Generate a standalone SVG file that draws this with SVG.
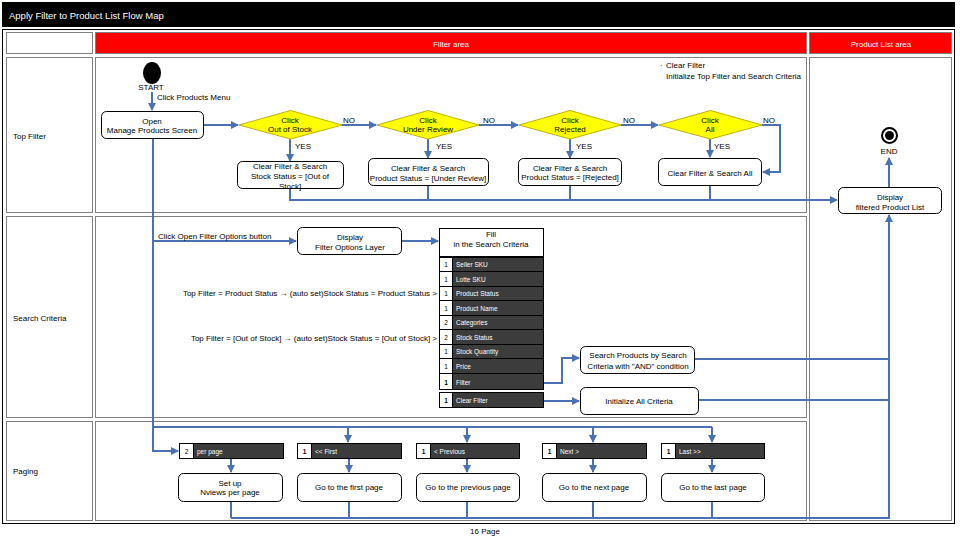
<svg xmlns="http://www.w3.org/2000/svg" width="960" height="540" viewBox="0 0 960 540">
<defs>
<marker id="ah" markerUnits="userSpaceOnUse" markerWidth="8" markerHeight="8" refX="7" refY="4" orient="auto">
<path d="M0,0 L8,4 L0,8 z" fill="#4a72b2"/>
</marker>
<style>
text{font-family:"Liberation Sans",Arial,sans-serif;font-size:8px;fill:#000}
.c{text-anchor:middle}
.e{text-anchor:end}
.w{fill:#fff}
.sm{font-size:6.5px}
.cell{fill:#fff;stroke:#808080;stroke-width:1}
.red{fill:#ff0000;stroke:#808080;stroke-width:1}
.box{fill:#fff;stroke:#000;stroke-width:1}
.dia{fill:#ffff00;stroke:#c0b000;stroke-width:1}
.bar{fill:#3c3c3c;stroke:#000;stroke-width:1}
.num{fill:#fff;stroke:#000;stroke-width:1}
.con path{fill:none;stroke:#4a72b2;stroke-width:2}
.con .a{marker-end:url(#ah)}
</style>
</defs>
<rect x="0" y="0" width="960" height="540" fill="#fff"/>
<g id="title">
<rect x="2" y="2" width="953" height="25" fill="#000"/>
<text x="9" y="19" class="w" style="font-size:9.5px">Apply Filter to Product List Flow Map</text>
</g>
<g id="frame">
<rect x="2.5" y="29.5" width="952" height="494" fill="#fff" stroke="#000"/>
<rect class="cell" x="6.5" y="32.5" width="86" height="21"/>
<rect class="red" x="95.5" y="32.5" width="711" height="21"/>
<rect class="red" x="809.5" y="32.5" width="142" height="21"/>
<text x="451" y="47" class="c w">Filter area</text>
<text x="881" y="47" class="c w">Product List area</text>
<rect class="cell" x="6.5" y="57.5" width="86" height="155"/>
<rect class="cell" x="6.5" y="216.5" width="86" height="201"/>
<rect class="cell" x="6.5" y="421.5" width="86" height="99"/>
<rect class="cell" x="95.5" y="57.5" width="711" height="155"/>
<rect class="cell" x="95.5" y="216.5" width="711" height="201"/>
<rect class="cell" x="95.5" y="421.5" width="711" height="99"/>
<rect class="cell" x="809.5" y="57.5" width="142" height="463"/>
<text x="13" y="139">Top Filter</text>
<text x="13" y="321">Search Criteria</text>
<text x="13" y="474">Paging</text>
<text x="485" y="534" class="c">16  Page</text>
</g>
<g id="connectors" class="con">
<path class="a" d="M152,92 V110"/>
<path class="a" d="M204,125 H238"/>
<path class="a" d="M342,125 H376"/>
<path class="a" d="M479,125 H518"/>
<path class="a" d="M621,125 H658"/>
<path class="a" d="M762,125 H780 V172 H763"/>
<path class="a" d="M290,139 V161"/>
<path class="a" d="M428,139 V158"/>
<path class="a" d="M570,139 V158"/>
<path class="a" d="M710,139 V157"/>
<path d="M428,186 V200 M570,186 V200 M710,186 V200"/>
<path class="a" d="M290,189 V200 H837"/>
<path class="a" d="M889,187 V158"/>
<path class="a" d="M153,138 V451 H178"/>
<path class="a" d="M153,241 H296"/>
<path class="a" d="M402,241 H438"/>
<path class="a" d="M543,383 H562 V358 H579"/>
<path class="a" d="M543,401 H579"/>
<path d="M153,427 H712"/>
<path class="a" d="M348,427 V442"/>
<path class="a" d="M467,427 V442"/>
<path class="a" d="M593,427 V442"/>
<path class="a" d="M712,427 V442"/>
<path class="a" d="M231,458 V472"/>
<path class="a" d="M349,458 V472"/>
<path class="a" d="M467,458 V472"/>
<path class="a" d="M593,458 V472"/>
<path class="a" d="M712,458 V472"/>
<path d="M231,502 V518 M349,502 V518 M467,502 V518 M593,502 V518 M712,502 V518"/>
<path d="M695,359 H889 M699,400 H889"/>
<path class="a" d="M231,518 H889 V215"/>
</g>
<g id="start">
<ellipse cx="152" cy="73" rx="9" ry="11" fill="#000"/>
<text x="151" y="90" class="c">START</text>
</g>
<g id="lbl-click-products">
<text x="157" y="100">Click Products Menu</text>
</g>
<g id="note">
<text x="660" y="68">·</text>
<text x="666" y="68">Clear Filter</text>
<text x="666" y="79">Initialize Top Filter and Search Criteria</text>
</g>
<g id="open-manage">
<rect class="box" x="101.5" y="111.5" width="102" height="27" rx="5"/>
<text x="152" y="124" class="c">Open</text>
<text x="152" y="133" class="c">Manage Products Screen</text>
</g>
<g id="d-outofstock">
<polygon class="dia" points="239,125 290.5,110.5 342,125 290.5,139"/>
<text x="290" y="123" class="c">Click</text>
<text x="290" y="132" class="c">Out of Stock</text>
<text x="343" y="123">NO</text>
<text x="295" y="149">YES</text>
</g>
<g id="d-underreview">
<polygon class="dia" points="377,125 428,110.5 479,125 428,139"/>
<text x="428" y="123" class="c">Click</text>
<text x="428" y="132" class="c">Under Review</text>
<text x="483" y="123">NO</text>
<text x="436" y="149">YES</text>
</g>
<g id="d-rejected">
<polygon class="dia" points="519,125 570,110.5 621,125 570,139"/>
<text x="570" y="123" class="c">Click</text>
<text x="570" y="132" class="c">Rejected</text>
<text x="623" y="123">NO</text>
<text x="576" y="149">YES</text>
</g>
<g id="d-all">
<polygon class="dia" points="659,125 710.5,110.5 762,125 710.5,139"/>
<text x="710" y="123" class="c">Click</text>
<text x="710" y="132" class="c">All</text>
<text x="763" y="123">NO</text>
<text x="714" y="149">YES</text>
</g>
<g id="b-outofstock">
<rect class="box" x="237.5" y="161.5" width="106" height="27" rx="5"/>
<text x="290" y="169" class="c">Clear Filter &amp; Search</text>
<text x="290" y="179" class="c">Stock Status = [Out of</text>
<text x="290" y="189" class="c">Stock]</text>
</g>
<g id="b-underreview">
<rect class="box" x="368.5" y="158.5" width="120" height="27" rx="5"/>
<text x="428" y="171" class="c">Clear Filter &amp; Search</text>
<text x="428" y="181" class="c">Product Status = [Under Review]</text>
</g>
<g id="b-rejected">
<rect class="box" x="518.5" y="158.5" width="103" height="27" rx="5"/>
<text x="570" y="171" class="c">Clear Filter &amp; Search</text>
<text x="570" y="180" class="c">Product Status = [Rejected]</text>
</g>
<g id="b-all">
<rect class="box" x="658.5" y="158.5" width="103" height="27" rx="5"/>
<text x="710" y="176" class="c">Clear Filter &amp; Search All</text>
</g>
<g id="end">
<circle cx="889.5" cy="135.5" r="7.5" fill="#fff" stroke="#000" stroke-width="2"/>
<circle cx="889.5" cy="135.5" r="4.5" fill="#000"/>
<text x="889" y="154" class="c">END</text>
</g>
<g id="display-list">
<rect class="box" x="838.5" y="187.5" width="103" height="26" rx="5"/>
<text x="890" y="200" class="c">Display</text>
<text x="890" y="210" class="c">filtered Product List</text>
</g>
<g id="lbl-click-open">
<text x="158" y="239">Click Open Filter Options button</text>
</g>
<g id="display-options">
<rect class="box" x="297.5" y="227.5" width="104" height="27" rx="5"/>
<text x="350" y="240" class="c">Display</text>
<text x="350" y="250" class="c">Filter Options Layer</text>
</g>
<g id="fill-criteria">
<rect class="box" x="439.5" y="228.5" width="104" height="28"/>
<text x="491" y="237" class="c">Fill</text>
<text x="491" y="247" class="c">in the Search Criteria</text>
<g class="sm">
<rect class="bar" x="439.5" y="257.5" width="104" height="14"/><rect class="num" x="439.5" y="257.5" width="13" height="14"/>
<text x="446" y="267" class="c sm">1</text><text x="456" y="267" class="sm w">Seller SKU</text>
<rect class="bar" x="439.5" y="271.5" width="104" height="15"/><rect class="num" x="439.5" y="271.5" width="13" height="15"/>
<text x="446" y="281.5" class="c sm">1</text><text x="456" y="281.5" class="sm w">Lotte SKU</text>
<rect class="bar" x="439.5" y="286.5" width="104" height="14"/><rect class="num" x="439.5" y="286.5" width="13" height="14"/>
<text x="446" y="296" class="c sm">1</text><text x="456" y="296" class="sm w">Product Status</text>
<rect class="bar" x="439.5" y="300.5" width="104" height="15"/><rect class="num" x="439.5" y="300.5" width="13" height="15"/>
<text x="446" y="310.5" class="c sm">1</text><text x="456" y="310.5" class="sm w">Product Name</text>
<rect class="bar" x="439.5" y="315.5" width="104" height="14"/><rect class="num" x="439.5" y="315.5" width="13" height="14"/>
<text x="446" y="325" class="c sm">2</text><text x="456" y="325" class="sm w">Categories</text>
<rect class="bar" x="439.5" y="329.5" width="104" height="15"/><rect class="num" x="439.5" y="329.5" width="13" height="15"/>
<text x="446" y="339.5" class="c sm">2</text><text x="456" y="339.5" class="sm w">Stock Status</text>
<rect class="bar" x="439.5" y="344.5" width="104" height="14"/><rect class="num" x="439.5" y="344.5" width="13" height="14"/>
<text x="446" y="354" class="c sm">1</text><text x="456" y="354" class="sm w">Stock Quantity</text>
<rect class="bar" x="439.5" y="358.5" width="104" height="15"/><rect class="num" x="439.5" y="358.5" width="13" height="15"/>
<text x="446" y="368.5" class="c sm">1</text><text x="456" y="368.5" class="sm w">Price</text>
<rect class="bar" x="439.5" y="373.5" width="104" height="16" stroke-width="1.5"/><rect class="num" x="439.5" y="373.5" width="13" height="16"/>
<text x="446" y="384.5" class="c sm" font-weight="bold">1</text><text x="456" y="384.5" class="sm w">Filter</text>
<rect class="bar" x="439.5" y="392.5" width="104" height="15"/><rect class="num" x="439.5" y="392.5" width="13" height="15"/>
<text x="446" y="402.5" class="c sm" font-weight="bold">1</text><text x="456" y="402.5" class="sm w">Clear Filter</text>
</g>
</g>
<g id="lbl-topfilter">
<text x="437" y="296" class="e">Top Filter = Product Status → (auto set)Stock Status = Product Status &gt;</text>
<text x="437" y="341" class="e">Top Filter = [Out of Stock] → (auto set)Stock Status = [Out of Stock] &gt;</text>
</g>
<g id="search-products">
<rect class="box" x="580.5" y="346.5" width="114" height="27" rx="5"/>
<text x="638" y="358" class="c">Search Products by Search</text>
<text x="638" y="369" class="c">Criteria with "AND" condition</text>
</g>
<g id="init-criteria">
<rect class="box" x="580.5" y="387.5" width="118" height="27" rx="5"/>
<text x="639" y="404" class="c">Initialize All Criteria</text>
</g>
<g id="bar-perpage">
<rect class="bar" x="179.5" y="443.5" width="104" height="15"/><rect class="num" x="179.5" y="443.5" width="14" height="15"/>
<text x="186.5" y="453.5" class="c sm">2</text><text x="197" y="453.5" class="sm w">per page</text>
</g>
<g id="bar-first">
<rect class="bar" x="297.5" y="443.5" width="104" height="15"/><rect class="num" x="297.5" y="443.5" width="14" height="15"/>
<text x="304.5" y="453.5" class="c sm" font-weight="bold">1</text><text x="315" y="453.5" class="sm w">&lt;&lt; First</text>
</g>
<g id="bar-previous">
<rect class="bar" x="416.5" y="443.5" width="103" height="15"/><rect class="num" x="416.5" y="443.5" width="14" height="15"/>
<text x="423.5" y="453.5" class="c sm" font-weight="bold">1</text><text x="434" y="453.5" class="sm w">&lt; Previous</text>
</g>
<g id="bar-next">
<rect class="bar" x="542.5" y="443.5" width="104" height="15"/><rect class="num" x="542.5" y="443.5" width="14" height="15"/>
<text x="549.5" y="453.5" class="c sm" font-weight="bold">1</text><text x="560" y="453.5" class="sm w">Next &gt;</text>
</g>
<g id="bar-last">
<rect class="bar" x="661.5" y="443.5" width="103" height="15"/><rect class="num" x="661.5" y="443.5" width="14" height="15"/>
<text x="668.5" y="453.5" class="c sm" font-weight="bold">1</text><text x="679" y="453.5" class="sm w">Last &gt;&gt;</text>
</g>
<g id="p-setup">
<rect class="box" x="178.5" y="473.5" width="104" height="28" rx="5"/>
<text x="230" y="486" class="c">Set up</text>
<text x="230" y="495" class="c">Nviews per page</text>
</g>
<g id="p-first">
<rect class="box" x="297.5" y="473.5" width="104" height="28" rx="5"/>
<text x="349" y="490" class="c">Go to the first page</text>
</g>
<g id="p-previous">
<rect class="box" x="416.5" y="473.5" width="103" height="28" rx="5"/>
<text x="468" y="490" class="c">Go to the previous page</text>
</g>
<g id="p-next">
<rect class="box" x="542.5" y="473.5" width="104" height="28" rx="5"/>
<text x="594" y="490" class="c">Go to the next page</text>
</g>
<g id="p-last">
<rect class="box" x="661.5" y="473.5" width="103" height="28" rx="5"/>
<text x="713" y="490" class="c">Go to the last page</text>
</g>
</svg>
